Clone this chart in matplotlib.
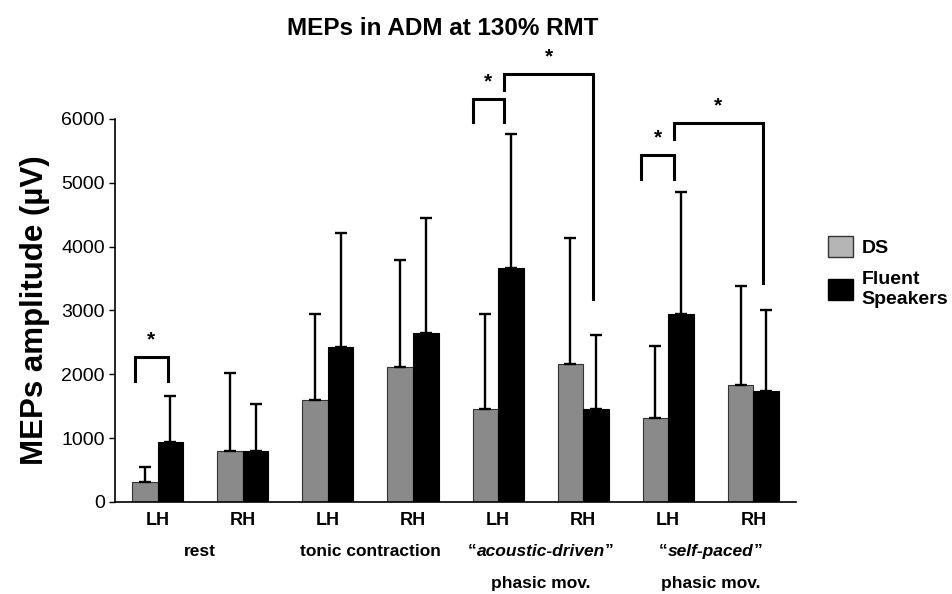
"""
MEPs in ADM at 130% RMT - DS vs fluent speakers
"""
import matplotlib
matplotlib.use("Agg")
import matplotlib.pyplot as plt
from matplotlib.patches import Patch
from matplotlib.offsetbox import TextArea, HPacker, AnnotationBbox
import numpy as np

plt.rcParams['font.family'] = ['Liberation Sans', 'DejaVu Sans']

HEMIS = ['LH', 'RH', 'LH', 'RH', 'LH', 'RH', 'LH', 'RH']
DS_MEAN = [313, 790, 1600, 2110, 1460, 2160, 1320, 1830]
DS_SD = [235, 1230, 1340, 1680, 1480, 1970, 1120, 1550]
FS_MEAN = [940, 800, 2420, 2650, 3670, 1460, 2940, 1730]
FS_SD = [720, 735, 1790, 1790, 2090, 1160, 1920, 1280]

# (plain first line or None, italic quoted word or None, second line or None)
CONDITIONS = [('rest', None, None),
              ('tonic contraction', None, None),
              (None, 'acoustic-driven', 'phasic mov.'),
              (None, 'self-paced', 'phasic mov.')]

# significance brackets: x-left, x-right, y-top, y-left-leg-end, y-right-leg-end
BRACKETS = [
    (-0.27, 0.12, 2270, 1900, 1900),
    (3.70, 4.07, 6310, 5950, 5950),
    (4.07, 5.12, 6700, 6450, 3180),
    (5.68, 6.07, 5440, 5060, 5060),
    (6.07, 7.11, 5940, 5690, 3430),
]

fig = plt.figure(figsize=(9.52, 5.94), dpi=100)
ax = fig.add_axes([0.121, 0.155, 0.715, 0.645])

x = np.arange(len(HEMIS))
w = 0.30
err_kw = dict(ecolor='black', elinewidth=1.7, capsize=4.5, capthick=1.7)
ax.bar(x - w / 2, DS_MEAN, w, color='#8a8a8a', edgecolor='#333333', linewidth=0.8,
       yerr=[np.zeros(len(DS_SD)), DS_SD], error_kw=err_kw)
ax.bar(x + w / 2, FS_MEAN, w, color='black', edgecolor='black', linewidth=0.8,
       yerr=[np.zeros(len(FS_SD)), FS_SD], error_kw=err_kw)

ax.set_xlim(-0.5, 7.5)
ax.set_ylim(0, 6000)
ax.set_yticks(range(0, 6001, 1000))
ax.tick_params(axis='y', labelsize=14, length=4, width=1, direction='out')
ax.set_xticks(x)
ax.set_xticklabels(HEMIS, fontsize=13, fontweight='bold')
ax.tick_params(axis='x', length=0, pad=7)
ax.spines['top'].set_visible(False)
ax.spines['right'].set_visible(False)
ax.spines['left'].set_linewidth(1.2)
ax.spines['bottom'].set_linewidth(1.2)

ax.set_ylabel('MEPs amplitude (\u00b5V)', fontsize=22.5, fontweight='bold', labelpad=8)
fig.text(0.465, 0.952, 'MEPs in ADM at 130% RMT', fontsize=17.5, fontweight='bold',
         ha='center', va='center')

lab_kw = dict(fontsize=12.5, fontweight='bold')
for i, (plain, quoted, second) in enumerate(CONDITIONS):
    xc = 2 * i + 0.5
    if plain is not None:
        ax.annotate(plain, xy=(xc, 0), xycoords=('data', 'axes fraction'),
                    xytext=(0, -35.5), textcoords='offset points',
                    ha='center', va='center', **lab_kw)
    if quoted is not None:
        box = HPacker(children=[TextArea('\u201c', textprops=lab_kw),
                                TextArea(quoted, textprops=dict(style='italic', **lab_kw)),
                                TextArea('\u201d', textprops=lab_kw)],
                      align='baseline', pad=0, sep=0)
        ab = AnnotationBbox(box, (xc, 0), xycoords=('data', 'axes fraction'),
                            xybox=(0, -35.5), boxcoords='offset points',
                            box_alignment=(0.5, 0.5), frameon=False, pad=0,
                            annotation_clip=False)
        ax.add_artist(ab)
    if second is not None:
        ax.annotate(second, xy=(xc, 0), xycoords=('data', 'axes fraction'),
                    xytext=(0, -58.5), textcoords='offset points',
                    ha='center', va='center', **lab_kw)

for x0, x1, top, yl, yr in BRACKETS:
    ax.plot([x0, x0, x1, x1], [yl, top, top, yr], color='black', lw=2.2,
            clip_on=False, solid_joinstyle='miter')
    ax.text((x0 + x1) / 2, top + 120, '*', ha='center', va='bottom',
            fontsize=15, fontweight='bold')

handles = [Patch(facecolor='#b5b5b5', edgecolor='#333333', label='DS'),
           Patch(facecolor='black', edgecolor='black', label='Fluent\nSpeakers')]
leg = fig.legend(handles=handles, loc='upper left', bbox_to_anchor=(0.866, 0.61),
                 frameon=False, prop={'weight': 'bold', 'size': 14},
                 handlelength=1.25, handleheight=1.3, handletextpad=0.45,
                 labelspacing=0.75, borderaxespad=0, borderpad=0.2)

fig.savefig('out.png', dpi=100)
